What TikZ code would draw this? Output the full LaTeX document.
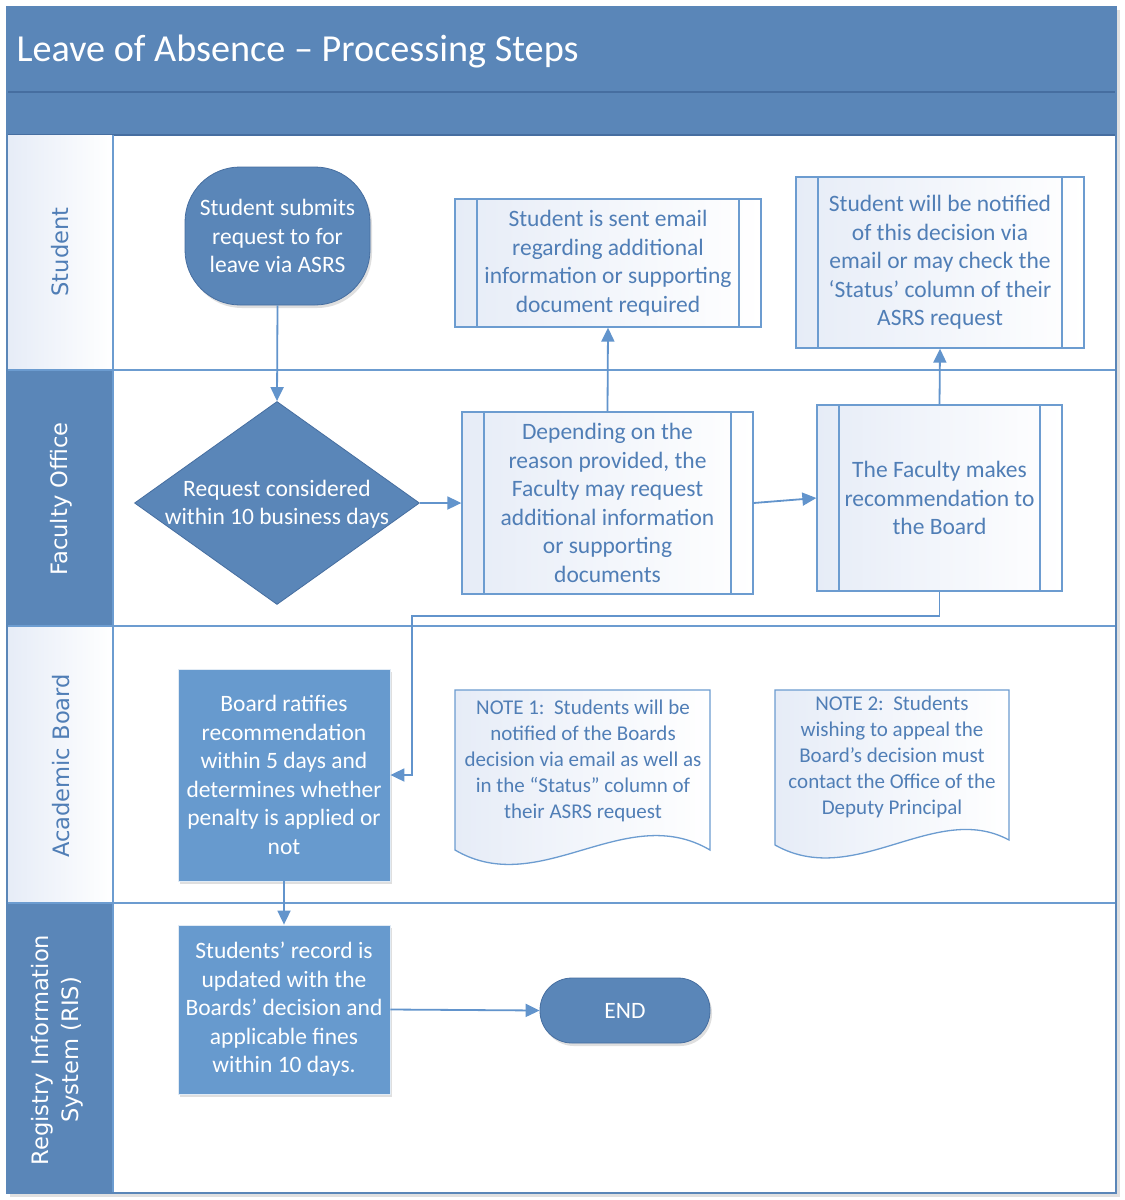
\documentclass[tikz,border=0pt]{standalone}
\usepackage{fontspec}
\setmainfont{Carlito}
\newfontfamily\lanefont{DejaVu Sans}
\usetikzlibrary{arrows.meta,shapes.geometric,shadows}
\definecolor{darkb}{RGB}{90,134,184}
\definecolor{bandline}{RGB}{70,110,160}
\definecolor{midb}{RGB}{103,154,206}
\definecolor{linec}{RGB}{98,148,204}
\definecolor{boxline}{RGB}{108,156,208}
\definecolor{txtb}{RGB}{80,126,182}
\definecolor{lightbg}{RGB}{230,236,247}
\begin{document}
\begin{tikzpicture}[x=1pt,y=-1pt,
  body/.style={font=\fontsize{23.5}{28.5}\selectfont, align=center},
  notetext/.style={font=\fontsize{21}{26}\selectfont, align=center, text=txtb},
  lanetext/.style={font=\lanefont\fontsize{22.6}{30}\selectfont, rotate=90, align=center},
  lightproc/.style={draw=boxline, line width=1.3pt, left color=lightbg, right color=white,
    text=txtb, body, inner sep=0pt,
    path picture={\draw[boxline,line width=2.6pt]
      ([xshift=22pt]path picture bounding box.north west) -- ([xshift=22pt]path picture bounding box.south west)
      ([xshift=-22pt]path picture bounding box.north east) -- ([xshift=-22pt]path picture bounding box.south east);}},
  darkterm/.style={fill=darkb, draw=bandline, line width=0.8pt, text=white, body, inner sep=0pt,
    drop shadow={shadow xshift=2pt,shadow yshift=-3pt,opacity=0.25}},
  midproc/.style={fill=midb, draw=white!80!midb, line width=0.8pt, text=white, body, inner sep=0pt,
    drop shadow={shadow xshift=2pt,shadow yshift=-3pt,opacity=0.25}},
  conn/.style={draw=linec, line width=1.8pt, -{Triangle[length=14pt,width=13pt]}},
  laneline/.style={draw=boxline, line width=1.5pt},
  notebox/.style={draw=boxline, line width=1.3pt, left color=lightbg, right color=white}
]
\useasboundingbox (0,0) rectangle (1125,1200);
% frame shadow
\fill[black!12] (10,10) rectangle (1120,1197);
\fill[white] (7,7) rectangle (1116,1193);
% title bands
\fill[darkb] (7,7) rectangle (1116,135);
\draw[bandline, line width=1.5pt] (7,92) -- (1116,92);
\draw[bandline, line width=1.5pt] (7,135) -- (1116,135);
\node[anchor=west, text=white, font=\fontsize{38.2}{40}\selectfont] (title) at (13,52) {Leave of Absence – Processing Steps};
% lane label cells
\shade[left color=lightbg, right color=white] (7,135) rectangle (113,370);
\fill[darkb] (7,370) rectangle (113,626);
\shade[left color=lightbg, right color=white] (7,626) rectangle (113,903);
\fill[darkb] (7,903) rectangle (113,1193);
% lane lines
\draw[laneline] (113,135) -- (113,1193);
\draw[laneline] (7,370) -- (1116,370);
\draw[laneline] (7,626) -- (1116,626);
\draw[laneline] (7,903) -- (1116,903);
% frame
\draw[darkb, line width=2pt] (7,7) rectangle (1116,1193);
% lane labels
\node[lanetext, text=txtb] (lstudent) at (60,252) {Student};
\node[lanetext, text=white] (lfaculty) at (61,499) {Faculty Office};
\node[lanetext, text=txtb] (lboard) at (61,766) {Academic Board};
\node[lanetext, text=white] (lris) at (57,1050) {Registry Information\\System (RIS)};

% nodes
\node[darkterm, rounded corners=55pt, minimum width=185pt, minimum height=138pt] (start) at (277.5,236) {Student submits\\request to for\\leave via ASRS};
\node[diamond, fill=darkb, draw=bandline, line width=0.8pt, minimum width=285pt, minimum height=203pt, inner sep=0pt] (dec) at (277,503) {};
\node[body, text=white] (dectext) at (277,504) {Request considered\\within 10 business days};
\node[lightproc, minimum width=291pt, minimum height=182pt] (depend) at (607.5,503) {Depending on the\\reason provided, the\\Faculty may request\\additional information\\or supporting\\documents};
\node[lightproc, minimum width=245pt, minimum height=186pt] (faculty) at (939.5,498) {The Faculty makes\\recommendation to\\the Board};
\node[lightproc, minimum width=306pt, minimum height=128pt] (email) at (608,263) {Student is sent email\\regarding additional\\information or supporting\\document required};
\node[lightproc, minimum width=288pt, minimum height=171pt] (notify) at (940,262.5) {Student will be notified\\of this decision via\\email or may check the\\‘Status’ column of their\\ASRS request};
\node[midproc, minimum width=212pt, minimum height=212pt] (ratify) at (284,775) {Board ratifies\\recommendation\\within 5 days and\\determines whether\\penalty is applied or\\not};
\node[midproc, minimum width=212pt, minimum height=169pt] (record) at (284,1009.5) {Students’ record is\\updated with the\\Boards’ decision and\\applicable fines\\within 10 days.};
\node[darkterm, rounded corners=32pt, minimum width=170pt, minimum height=65pt] (end) at (625,1010.5) {END};

% notes
\path[notebox] (455,690) -- (710,690) -- (710,850) .. controls (625,800) and (540,900) .. (455,850) -- cycle;
\node[notetext] (note1) at (583,761) {NOTE 1:\ \ Students will be\\notified of the Boards\\decision via email as well as\\in the “Status” column of\\their ASRS request};
\path[notebox] (775,690) -- (1009,690) -- (1009,840) .. controls (935,800) and (855,890) .. (775,845) -- cycle;
\node[notetext] (note2) at (892,757) {NOTE 2:\ \ Students\\wishing to appeal the\\Board’s decision must\\contact the Office of the\\Deputy Principal};

% connectors
\draw[conn] (start.south) -- (dec.north);
\draw[conn] (dec.east) -- (depend.west);
\draw[conn] (depend.north) -- (email.south);
\draw[conn] (depend.east) -- (faculty.west);
\draw[conn] (faculty.north) -- (notify.south);
\coordinate (elbow) at (412,616);
\draw[conn] (faculty.south) |- (elbow) |- (ratify.east);
\draw[conn] (ratify.south) -- (record.north);
\draw[conn] (record.east) -- (end.west);
\end{tikzpicture}
\end{document}
